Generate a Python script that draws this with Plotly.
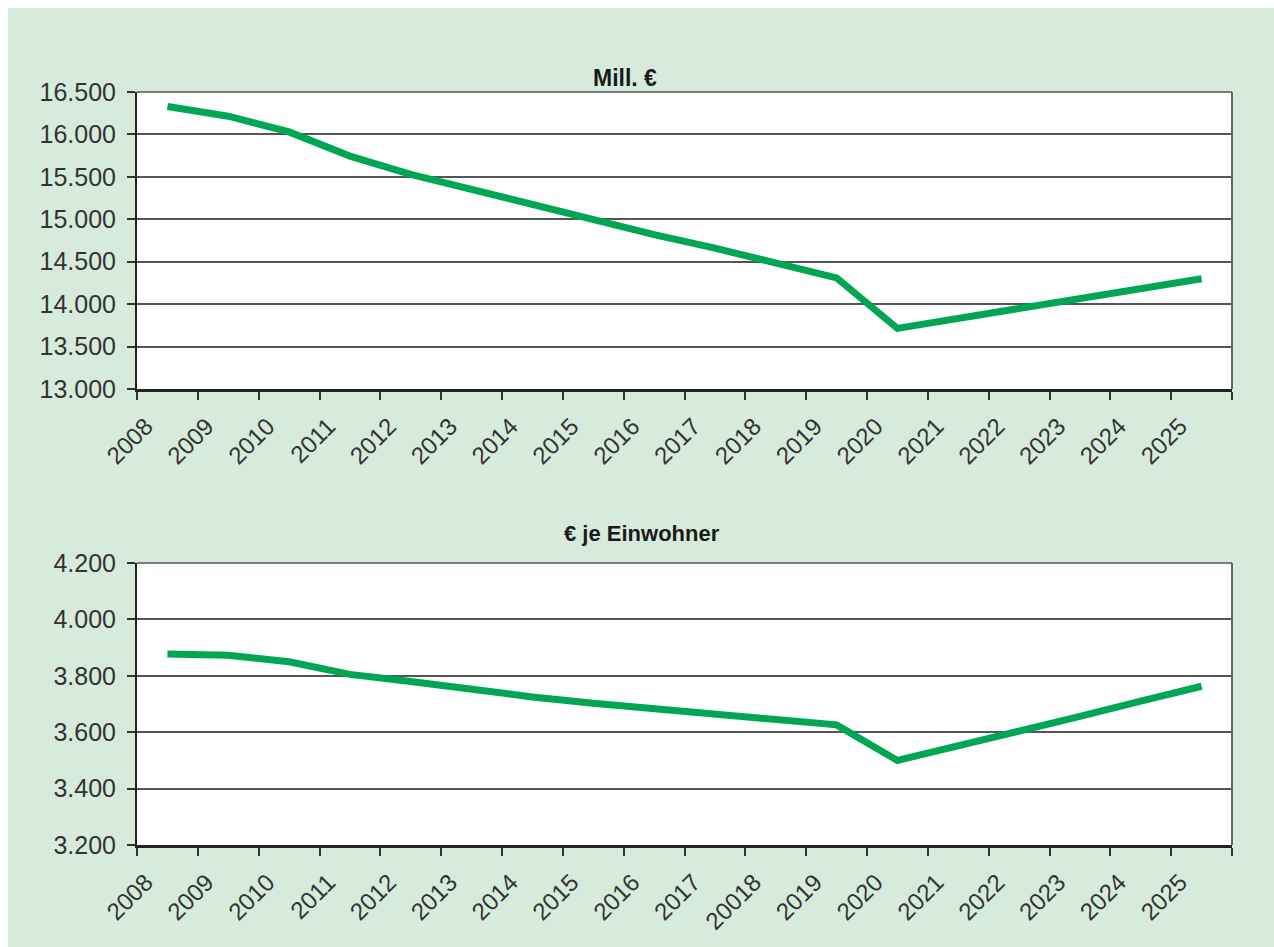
import plotly.graph_objects as go

years = ["2008", "2009", "2010", "2011", "2012", "2013", "2014", "2015", "2016",
         "2017", "2018", "2019", "2020", "2021", "2022", "2023", "2024", "2025"]
labels_bottom = ["2008", "2009", "2010", "2011", "2012", "2013", "2014", "2015", "2016",
                 "2017", "20018", "2019", "2020", "2021", "2022", "2023", "2024", "2025"]
mill_eur = [16330, 16215, 16030, 15745, 15530, 15350, 15170, 14990, 14820,
            14660, 14475, 14310, 13715, 13830, 13950, 14070, 14185, 14300]
eur_per_inhabitant = [3877, 3873, 3850, 3805, 3780, 3752, 3725, 3703, 3683,
                      3665, 3644, 3626, 3500, 3550, 3603, 3656, 3710, 3763]
title_top = "Mill. €"
title_bottom = "€ je Einwohner"

GREEN_BG = "#d7ebdd"
LINE_GREEN = "#00a651"
TXT = "#333333"
FONT = "Liberation Sans"

# figure sits at (8, 8) on the page
OFF = 8
W, H = 1266, 939

def px_x(p):
    return (p - OFF) / W

def px_y(p):
    return (OFF + H - p) / H

xpos = [i + 0.5 for i in range(len(years))]

fig = go.Figure()
fig.add_trace(go.Scatter(x=xpos, y=mill_eur, mode="lines",
                         line=dict(color=LINE_GREEN, width=7),
                         xaxis="x", yaxis="y", showlegend=False))
fig.add_trace(go.Scatter(x=xpos, y=eur_per_inhabitant, mode="lines",
                         line=dict(color=LINE_GREEN, width=7),
                         xaxis="x2", yaxis="y2", showlegend=False))

xdom = [px_x(137), px_x(1232)]
tickvals = list(range(len(years) + 1))

def xaxis_cfg(labels, anchor):
    return dict(domain=xdom, range=[0, len(years)], anchor=anchor, automargin=False,
                tickmode="array", tickvals=tickvals, ticktext=labels + [""],
                ticks="outside", ticklen=8, tickwidth=1.5, tickcolor="#333",
                tickangle=-45, tickfont=dict(family=FONT, size=24, color=TXT),
                ticklabelshift=9, ticklabelstandoff=3,
                showline=True, linecolor="#222", linewidth=2.5,
                showgrid=False, zeroline=False, fixedrange=True)

def yaxis_cfg(dom, rng, dtick, anchor):
    return dict(domain=dom, range=rng, dtick=dtick, tick0=rng[0], anchor=anchor,
                automargin=False,
                tickformat=",d", ticks="outside", ticklen=8, tickwidth=1.5,
                tickcolor="#333", tickfont=dict(family=FONT, size=25, color=TXT),
                ticklabelstandoff=6,
                showline=True, linecolor="#222", linewidth=2,
                showgrid=True, gridcolor="#555", gridwidth=1.5,
                zeroline=False, fixedrange=True)

fig.update_layout(
    width=W, height=H,
    margin=dict(l=0, t=0, r=0, b=0, autoexpand=False),
    paper_bgcolor=GREEN_BG, plot_bgcolor="white",
    separators=",.",
    xaxis=xaxis_cfg(years, "y"),
    yaxis=yaxis_cfg([px_y(389), px_y(92)], [13000, 16500], 500, "x"),
    xaxis2=xaxis_cfg(labels_bottom, "y2"),
    yaxis2=yaxis_cfg([px_y(845), px_y(563)], [3200, 4200], 200, "x2"),
    font=dict(family=FONT, color=TXT),
    annotations=[
        dict(text="<b>" + title_top + "</b>", x=px_x(625), y=px_y(63),
             xref="paper", yref="paper", showarrow=False,
             font=dict(family=FONT, size=23, color="#1a1a1a")),
        dict(text="<b>" + title_bottom + "</b>", x=px_x(642), y=px_y(533),
             xref="paper", yref="paper", showarrow=False,
             font=dict(family=FONT, size=22, color="#1a1a1a")),
    ],
    shapes=[
        dict(type="line", xref="x domain", yref="y domain", x0=1, x1=1, y0=0, y1=1,
             line=dict(color="#666", width=2)),
        dict(type="line", xref="x domain", yref="y domain", x0=0, x1=1, y0=1, y1=1,
             line=dict(color="#555", width=1.5)),
        dict(type="line", xref="x2 domain", yref="y2 domain", x0=1, x1=1, y0=0, y1=1,
             line=dict(color="#666", width=2)),
        dict(type="line", xref="x2 domain", yref="y2 domain", x0=0, x1=1, y0=1, y1=1,
             line=dict(color="#555", width=1.5)),
    ],
)

fig.write_html("out.html",
               post_script="document.body.style.margin='8px 0 0 8px';"
                           "document.body.style.overflow='hidden';")
